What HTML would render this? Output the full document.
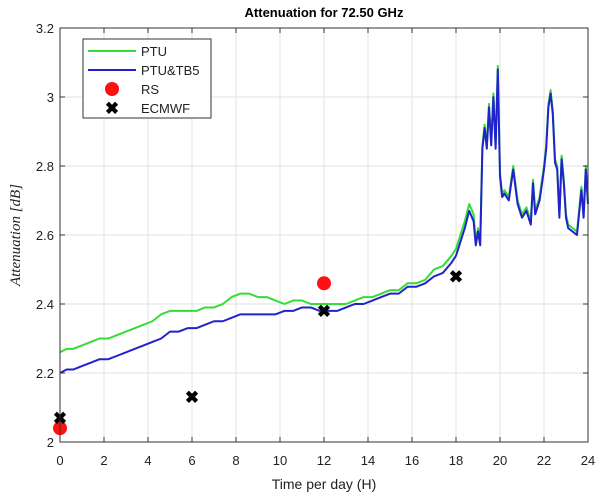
<!DOCTYPE html>
<html><head><meta charset="utf-8"><style>
body{margin:0;background:#fff;}
svg{display:block;font-family:"Liberation Sans",Arial,sans-serif;}
</style></head><body>
<svg id="chart" width="600" height="499" viewBox="0 0 600 499">
<rect width="600" height="499" fill="#fff"/>
<g id="grid"></g>
<g id="series"></g>
<g id="axes"></g>
<text x="324" y="17" text-anchor="middle" font-size="13" font-weight="bold">Attenuation for 72.50 GHz</text>
<text x="324" y="489" text-anchor="middle" font-size="14" fill="#222">Time per day (H)</text>
<text transform="translate(20,235) rotate(-90)" text-anchor="middle" font-size="15" font-style="italic" font-family="Liberation Serif,serif" fill="#222">Attenuation [dB]</text>
<g>
<rect x="83" y="39" width="128" height="79" fill="#fff" stroke="#333" stroke-width="1"/>
<g><line x1="88" y1="51" x2="136" y2="51" stroke="#33dd33" stroke-width="2"/><text x="141" y="56" font-size="13" fill="#222">PTU</text></g>
<g><line x1="88" y1="70" x2="136" y2="70" stroke="#2222cc" stroke-width="2"/><text x="141" y="75" font-size="13" fill="#222">PTU&amp;TB5</text></g>
<g><circle cx="112" cy="89" r="7" fill="#ff1111"/><text x="141" y="94" font-size="13" fill="#222">RS</text></g>
<g><text x="112" y="114" text-anchor="middle" font-size="17" font-weight="bold">✖</text><text x="141" y="113" font-size="13" fill="#222">ECMWF</text></g>
</g>
</svg>
<script>
const xTicks=[0,2,4,6,8,10,12,14,16,18,20,22,24];
const yTicks=[2,2.2,2.4,2.6,2.8,3,3.2];
const yTickLabels=["2","2.2","2.4","2.6","2.8","3","3.2"];
const ptuT=[0,0.3,0.6,1,1.4,1.8,2.2,2.6,3,3.4,3.8,4.2,4.6,5,5.4,5.8,6.2,6.6,7,7.4,7.8,8.2,8.6,9,9.4,9.8,10.2,10.6,11,11.4,11.8,12.2,12.6,13,13.4,13.8,14.2,14.6,15,15.4,15.8,16.2,16.6,17,17.4,17.8,18,18.2,18.4,18.6,18.8,18.9,19,19.1,19.2,19.3,19.4,19.5,19.6,19.7,19.8,19.9,20,20.1,20.2,20.4,20.6,20.8,21,21.2,21.4,21.5,21.6,21.8,22,22.1,22.2,22.3,22.4,22.5,22.6,22.7,22.8,22.9,23,23.1,23.3,23.5,23.7,23.8,23.9,24];
const ptuV=[2.26,2.27,2.27,2.28,2.29,2.30,2.30,2.31,2.32,2.33,2.34,2.35,2.37,2.38,2.38,2.38,2.38,2.39,2.39,2.40,2.42,2.43,2.43,2.42,2.42,2.41,2.40,2.41,2.41,2.40,2.40,2.40,2.40,2.40,2.41,2.42,2.42,2.43,2.44,2.44,2.46,2.46,2.47,2.50,2.51,2.54,2.56,2.60,2.64,2.69,2.66,2.58,2.62,2.58,2.86,2.92,2.86,2.98,2.87,3.01,2.86,3.09,2.78,2.72,2.73,2.71,2.80,2.70,2.66,2.68,2.64,2.76,2.67,2.71,2.80,2.86,2.98,3.02,2.96,2.82,2.80,2.66,2.83,2.76,2.66,2.63,2.62,2.61,2.74,2.66,2.80,2.70];
const tb5V=[2.20,2.21,2.21,2.22,2.23,2.24,2.24,2.25,2.26,2.27,2.28,2.29,2.30,2.32,2.32,2.33,2.33,2.34,2.35,2.35,2.36,2.37,2.37,2.37,2.37,2.37,2.38,2.38,2.39,2.39,2.38,2.38,2.38,2.39,2.40,2.40,2.41,2.42,2.43,2.43,2.45,2.45,2.46,2.48,2.49,2.52,2.54,2.58,2.62,2.67,2.64,2.57,2.61,2.57,2.85,2.91,2.85,2.97,2.86,3.00,2.85,3.08,2.77,2.71,2.72,2.70,2.79,2.69,2.65,2.67,2.63,2.75,2.66,2.70,2.79,2.85,2.97,3.01,2.95,2.81,2.79,2.65,2.82,2.75,2.65,2.62,2.61,2.60,2.73,2.65,2.79,2.69];
const rsT=[0,12], rsV=[2.04,2.46];
const ecT=[0,6,12,18], ecV=[2.07,2.13,2.38,2.48];

const X0=60,X1=588,Y0=442,Y1=28;
const xs=t=>X0+(t/24)*(X1-X0);
const ys=v=>Y0-(v-2)/1.2*(Y0-Y1);
const NS="http://www.w3.org/2000/svg";
function mk(tag,attrs,parent){const e=document.createElementNS(NS,tag);for(const k in attrs)e.setAttribute(k,attrs[k]);parent.appendChild(e);return e;}
const grid=document.getElementById('grid'),axes=document.getElementById('axes'),ser=document.getElementById('series');
xTicks.forEach((t,i)=>{
 const l=mk('line',{x1:xs(t),x2:xs(t),y1:Y1,y2:Y0,stroke:'#e2e2e2','stroke-width':1},grid);
 
 
 mk('line',{x1:xs(t),x2:xs(t),y1:Y0,y2:Y0-5,stroke:'#333'},axes);
 mk('line',{x1:xs(t),x2:xs(t),y1:Y1,y2:Y1+5,stroke:'#333'},axes);
 const tx=mk('text',{x:xs(t),y:Y0+23,'text-anchor':'middle','font-size':13,fill:'#222'},axes);
 tx.textContent=t;
 
 
});
yTicks.forEach((v,i)=>{
 const l=mk('line',{x1:X0,x2:X1,y1:ys(v),y2:ys(v),stroke:'#e2e2e2','stroke-width':1},grid);
 
 
 mk('line',{x1:X0,x2:X0+5,y1:ys(v),y2:ys(v),stroke:'#333'},axes);
 mk('line',{x1:X1,x2:X1-5,y1:ys(v),y2:ys(v),stroke:'#333'},axes);
 const tx=mk('text',{x:X0-6,y:ys(v)+5,'text-anchor':'end','font-size':13,fill:'#222'},axes);
 tx.textContent=yTickLabels[i];
 
 
});
mk('rect',{x:X0,y:Y1,width:X1-X0,height:Y0-Y1,fill:'none',stroke:'#333','stroke-width':1},axes);
function line(T,V,col,name){
 const p=mk('polyline',{points:T.map((t,i)=>xs(t)+','+ys(V[i])).join(' '),fill:'none',stroke:col,'stroke-width':2,'stroke-linejoin':'round'},ser);
 
 
}
line(ptuT,ptuV,'#33dd33','ptu-line');
line(ptuT,tb5V,'#2222cc','ptu-tb5-line');
rsT.forEach((t,i)=>{
 const c=mk('circle',{cx:xs(t),cy:ys(rsV[i]),r:7,fill:'#ff1111'},ser);
 
 
});
ecT.forEach((t,i)=>{
 const c=mk('text',{x:xs(t),y:ys(ecV[i])+6,'text-anchor':'middle','font-size':17,'font-weight':'bold'},ser);
 c.textContent='✖';
 
 
});
</script>
</body></html>
